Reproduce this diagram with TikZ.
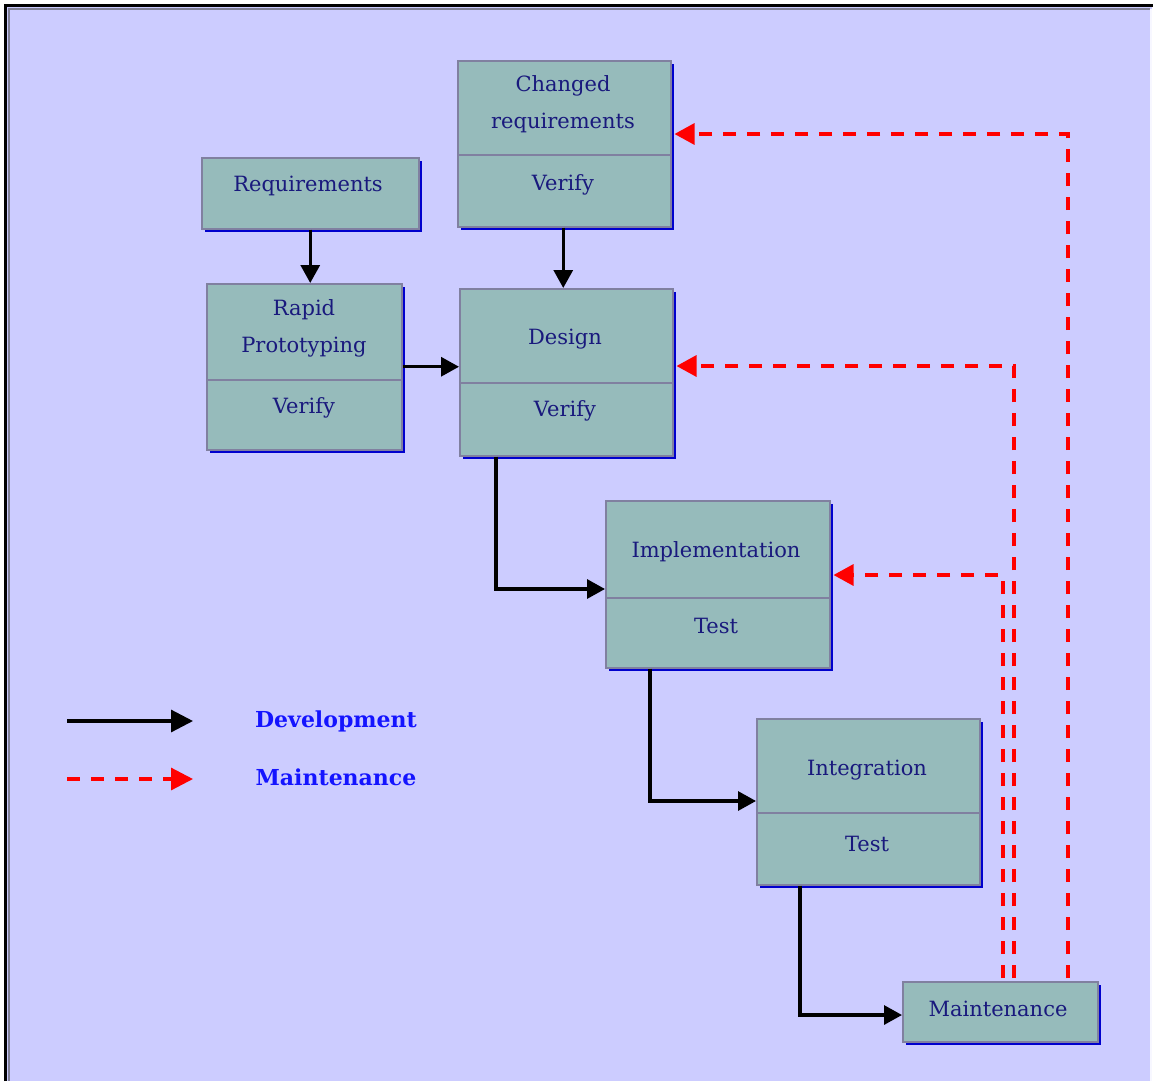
\documentclass[tikz,border=0pt]{standalone}
\usepackage{fontspec}
\setmainfont{DejaVu Serif}
\usetikzlibrary{arrows.meta,calc,shadows}
\definecolor{bg}{RGB}{204,204,255}
\definecolor{boxfill}{RGB}{150,187,187}
\definecolor{boxline}{RGB}{128,128,160}
\definecolor{shadowblue}{RGB}{0,0,205}
\definecolor{txt}{RGB}{25,25,125}
\definecolor{legendc}{RGB}{20,20,255}
\definecolor{frameg}{RGB}{128,128,150}
\begin{document}
\begin{tikzpicture}[x=1pt,y=-1pt,
  box/.style={draw=boxline, line width=1.5pt, fill=boxfill, anchor=north west, inner sep=0pt,
    general shadow={fill=shadowblue, shadow xshift=3pt, shadow yshift=-3pt}},
  lbl/.style={text=txt, font=\fontsize{21}{37}\selectfont, align=center, inner sep=0pt},
  divider/.style={draw=boxline, line width=1.5pt},
  dev/.style={draw=black, line width=3.2pt, -{Triangle[length=18pt,width=19pt]}},
  mnt/.style={draw=red, line width=3.2pt, dash pattern=on 13pt off 11pt, -{Triangle[length=20pt,width=21pt]}},
  leg/.style={text=legendc, font=\fontsize{22}{26}\selectfont\bfseries, inner sep=0pt},
]
\useasboundingbox (0,0) rectangle (1155,1081);
\fill[white] (0,0) rectangle (1155,1081);
\fill[bg] (7,7) rectangle (1152,1081);
\draw[frameg, line width=2pt] (9,1081) -- (9,9) -- (1150,9);
\draw[black, line width=3pt] (5.5,1081) -- (5.5,5.5) -- (1153,5.5);
\draw[white!85!bg, line width=2pt] (1151,9) -- (1151,1081);

% boxes
\node[box, minimum width=217pt, minimum height=71pt] (req) at (201,157) {};
\node[lbl] (reqt) at (308,186) {Requirements};

\node[box, minimum width=213pt, minimum height=166pt] (chreq) at (457,60) {};
\draw[divider] ($(chreq.north west)+(0,95)$) -- ($(chreq.north east)+(0,95)$);
\node[lbl] (chreqt) at (563,104) {Changed\\requirements};
\node[lbl] (chreqv) at (563,185) {Verify};

\node[box, minimum width=195pt, minimum height=166pt] (rapid) at (206,283) {};
\draw[divider] ($(rapid.north west)+(0,97)$) -- ($(rapid.north east)+(0,97)$);
\node[lbl] (rapidt) at (304,328) {Rapid\\Prototyping};
\node[lbl] (rapidv) at (304,408) {Verify};

\node[box, minimum width=213pt, minimum height=167pt] (design) at (459,288) {};
\draw[divider] ($(design.north west)+(0,95)$) -- ($(design.north east)+(0,95)$);
\node[lbl] (designt) at (565,339) {Design};
\node[lbl] (designv) at (565,411) {Verify};

\node[box, minimum width=224pt, minimum height=167pt] (impl) at (605,500) {};
\draw[divider] ($(impl.north west)+(0,98)$) -- ($(impl.north east)+(0,98)$);
\node[lbl] (implt) at (716,552) {Implementation};
\node[lbl] (implv) at (716,626) {Test};

\node[box, minimum width=223pt, minimum height=166pt] (integ) at (756,718) {};
\draw[divider] ($(integ.north west)+(0,95)$) -- ($(integ.north east)+(0,95)$);
\node[lbl] (integt) at (867,770) {Integration};
\node[lbl] (integv) at (867,844) {Test};

\node[box, minimum width=195pt, minimum height=60pt] (maint) at (902,981) {};
\node[lbl] (maintt) at (998,1009) {Maintenance};

% development connectors
\draw[dev] (req.south) -- (req.south |- rapid.north);
\draw[dev] ($(chreq.south)+(-1,0)$) -- ($(chreq.south |- design.north)+(-1,0)$);
\draw[dev] (rapid.east) -- (rapid.east -| design.west);
\draw[dev] ($(design.south west)+(37,0)$) |- ($(impl.north west)+(0,89)$);
\draw[dev] ($(impl.south west)+(45,0)$) |- ($(integ.north west)+(0,83)$);
\draw[dev] ($(integ.south west)+(44,0)$) |- ($(maint.north west)+(0,34)$);

% maintenance connectors
\draw[mnt] ($(maint.north west)+(166,-3)$) |- ($(chreq.north east)+(3,74)$);
\draw[mnt] ($(maint.north west)+(112,-3)$) |- ($(design.north east)+(3,78)$);
\draw[mnt] ($(maint.north west)+(101,-3)$) |- ($(impl.north east)+(3,75)$);

% legend
\coordinate (la) at (67,721);
\coordinate (lb) at (193,721);
\coordinate (lc) at (67,779);
\coordinate (ld) at (193,779);
\draw[dev, -{Triangle[length=22pt,width=22pt]}] (la) -- (lb);
\draw[mnt, -{Triangle[length=22pt,width=22pt]}] (lc) -- (ld);
\node[leg] (legdev) at (336,721) {Development};
\node[leg] (legmnt) at (336,777) {Maintenance};
\end{tikzpicture}
\end{document}
